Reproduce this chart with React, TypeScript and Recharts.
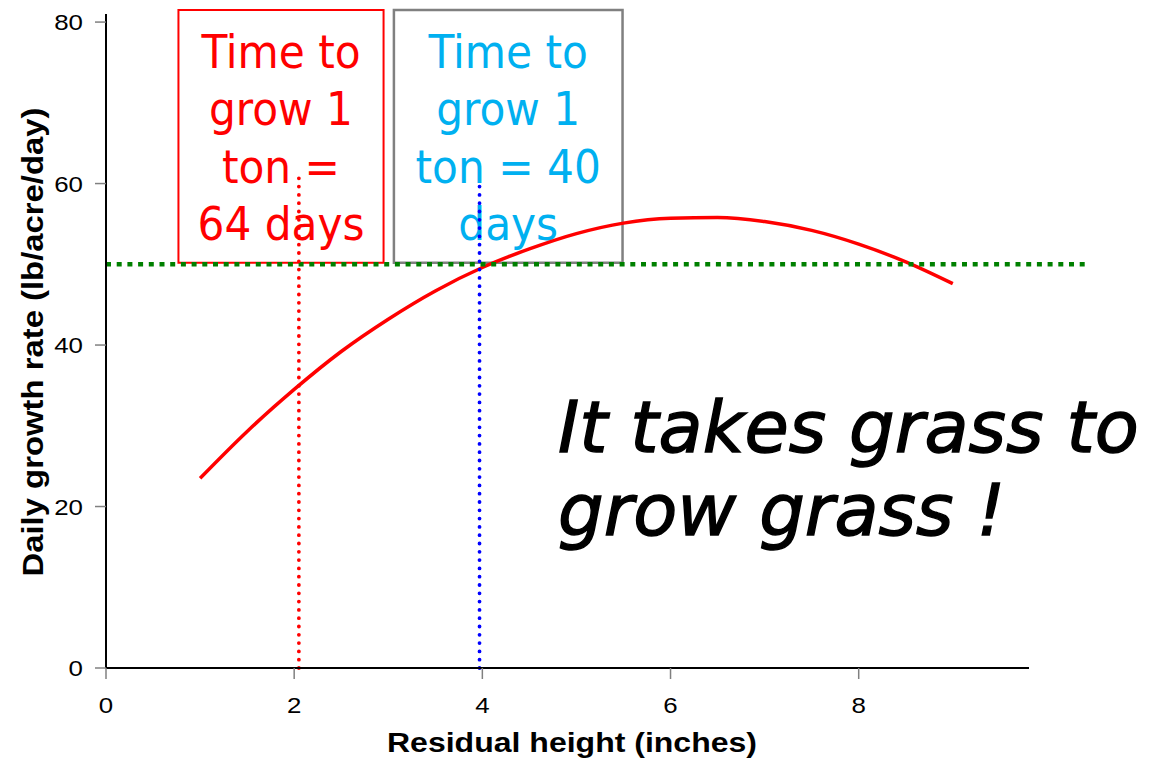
import React from 'react';
import {
  ComposedChart,
  Line,
  XAxis,
  YAxis,
  ReferenceLine,
  ReferenceArea,
  Label,
  Customized,
} from 'recharts';

// residual height (inches) vs daily growth rate
const heights = [1, 1.5, 2, 2.5, 3, 3.5, 4, 4.5, 5, 5.5, 6, 6.5, 7, 7.5, 8, 8.5, 9];
const growthRate = [23.5, 29.3, 34.5, 39.2, 43.2, 46.7, 49.6, 51.9, 53.8, 55.1, 55.7, 55.8, 55.3, 54.2, 52.5, 50.3, 47.6];

const xTicks = [0, 2, 4, 6, 8];
const yTicks = [0, 20, 40, 60, 80];

const targetRate = 50;
const shortCut = { height: 2.05, rate: 61.5 };
const tallCut = { height: 3.97, rate: 60 };

const redBox = { x1: 0.77, x2: 2.95, y1: 50.2, y2: 81.5 };
const greyBox = { x1: 3.06, x2: 5.49, y1: 50.2, y2: 81.5 };

const redNote = ['Time to', 'grow 1', 'ton =', '64 days'];
const blueNote = ['Time to', 'grow 1', 'ton = 40', 'days'];
const slogan = ['It takes grass to', 'grow grass !'];

const data = heights.map((h, i) => ({ height: h, rate: growthRate[i] }));

const RED = '#ff0000';
const BLUE_TEXT = '#00b0f0';
const GREEN = '#008000';
const SANS = "'Liberation Sans', Arial, sans-serif";
const NOTE_FONT = "'DejaVu Sans Condensed', 'DejaVu Sans', sans-serif";

// the original's tick digits are a bit wider than plain Arial, stretch them slightly
const stretch = (x: number) => `translate(${x},0) scale(1.15,1) translate(${-x},0)`;

const XTick = ({ x, y, payload }: any) => (
  <text
    x={x}
    y={y + 16}
    transform={stretch(x)}
    textAnchor='middle'
    fill='#000'
    fontFamily={SANS}
    fontSize={22.5}>
    {payload.value}
  </text>
);

const YTick = ({ x, y, payload }: any) => (
  <text
    x={x}
    y={y + 8}
    transform={stretch(x)}
    textAnchor='end'
    fill='#000'
    fontFamily={SANS}
    fontSize={22.5}>
    {payload.value}
  </text>
);

const noteText = (lines: string[], color: string) => (props: any) => {
  const { x, y, width } = props.viewBox;
  const cx = x + width / 2;
  return (
    <text
      textAnchor='middle'
      fill={color}
      fontFamily={NOTE_FONT}
      fontSize={47}
      style={{ fontStretch: 'condensed' }}>
      {lines.map((l, i) => (
        <tspan key={i} x={cx} y={y + 58 + i * 57.5}>
          {l}
        </tspan>
      ))}
    </text>
  );
};

const Slogan = () => (
  <text
    fontFamily="'DejaVu Sans', sans-serif"
    fontStyle='italic'
    fontSize={72}
    fill='#000'
    stroke='#000'
    strokeWidth={1.4}>
    {slogan.map((l, i) => (
      <tspan key={i} x={558} y={452 + i * 83}>
        {l}
      </tspan>
    ))}
  </text>
);

export default function App() {
  return (
    <div style={{ position: 'absolute', left: 0, top: 0, background: '#fff' }}>
      <ComposedChart width={1160} height={764} data={data} margin={{ top: 14, right: 131, bottom: 0, left: 0 }}>
        <XAxis
          dataKey='height'
          type='number'
          domain={[0, 9.81]}
          ticks={xTicks}
          height={96}
          axisLine={{ stroke: '#000', strokeWidth: 2 }}
          tickLine={{ stroke: '#808080', strokeWidth: 1.5 }}
          tickSize={11}
          tickMargin={18}
          tick={(p: any) => <XTick {...p} />}>
          <Label
            content={() => (
              <text
                x={572}
                y={752}
                textAnchor='middle'
                fontFamily={SANS}
                fontWeight='bold'
                fontSize={27}
                fill='#000'
                textLength={370}
                lengthAdjust='spacingAndGlyphs'>
                Residual height (inches)
              </text>
            )}
          />
        </XAxis>
        <YAxis
          type='number'
          domain={[0, 81]}
          ticks={yTicks}
          width={106}
          axisLine={{ stroke: '#000', strokeWidth: 2 }}
          tickLine={{ stroke: '#808080', strokeWidth: 1.5 }}
          tickSize={11}
          tickMargin={12}
          tick={(p: any) => <YTick {...p} />}>
          <Label
            content={() => (
              <text
                x={43}
                y={342}
                transform='rotate(-90, 43, 342)'
                textAnchor='middle'
                fontFamily={SANS}
                fontWeight='bold'
                fontSize={29}
                fill='#000'
                textLength={469}
                lengthAdjust='spacingAndGlyphs'>
                Daily growth rate (lb/acre/day)
              </text>
            )}
          />
        </YAxis>

        <ReferenceArea
          {...redBox}
          ifOverflow='visible'
          fill='none'
          fillOpacity={0}
          stroke={RED}
          strokeWidth={2}
          label={noteText(redNote, RED)}
        />
        <ReferenceArea
          {...greyBox}
          ifOverflow='visible'
          fill='none'
          fillOpacity={0}
          stroke='#808080'
          strokeWidth={2.5}
          label={noteText(blueNote, BLUE_TEXT)}
        />

        <Line
          dataKey='rate'
          type='monotone'
          stroke={RED}
          strokeWidth={3.5}
          dot={false}
          activeDot={false}
          isAnimationActive={false}
        />

        <ReferenceLine
          segment={[
            { x: 0, y: targetRate },
            { x: 10.45, y: targetRate },
          ]}
          ifOverflow='visible'
          stroke={GREEN}
          strokeWidth={4.5}
          strokeDasharray='5 5.7'
        />
        <ReferenceLine
          segment={[
            { x: shortCut.height, y: 0 },
            { x: shortCut.height, y: shortCut.rate },
          ]}
          ifOverflow='visible'
          stroke={RED}
          strokeWidth={3.8}
          strokeLinecap='round'
          strokeDasharray='0 8.3'
        />
        <ReferenceLine
          segment={[
            { x: tallCut.height, y: 0 },
            { x: tallCut.height, y: tallCut.rate },
          ]}
          ifOverflow='visible'
          stroke='#0000ff'
          strokeWidth={3.8}
          strokeLinecap='round'
          strokeDasharray='0 8.3'
        />

        <Customized component={Slogan} />
      </ComposedChart>
    </div>
  );
}
